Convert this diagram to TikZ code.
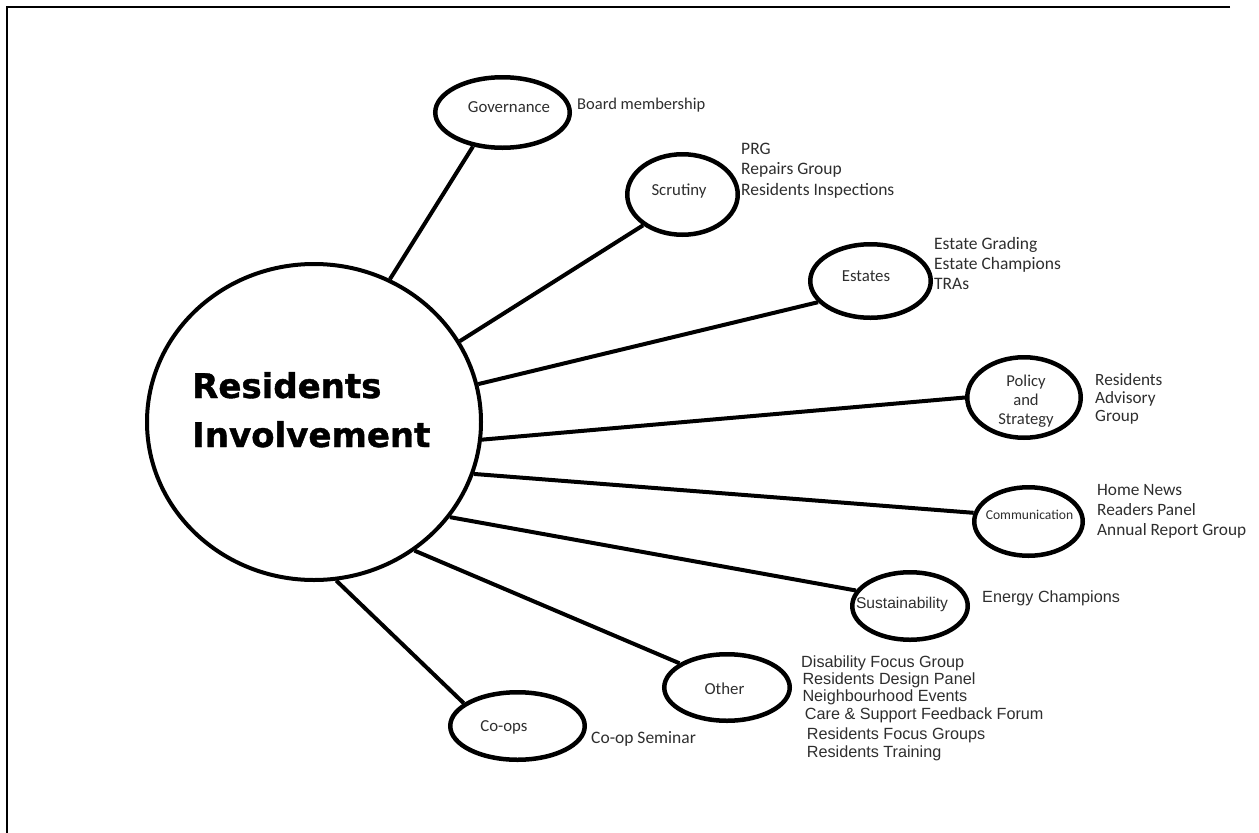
\documentclass[tikz,border=0pt]{standalone}
\usepackage{fontspec}
\setmainfont{Carlito}
\newfontfamily\arialf{Liberation Sans}
\newfontfamily\blackf{DejaVu Sans Bold}[FakeBold=1.2]
\usetikzlibrary{shapes.geometric}
\definecolor{txt}{gray}{0.18}
\begin{document}
\begin{tikzpicture}[x=1pt,y=-1pt,
  bubble/.style={draw=black, line width=4.5pt, ellipse, inner sep=0pt},
  link/.style={draw=black, line width=4pt},
  lbl/.style={inner sep=0pt, anchor=base, text=txt, font=\fontsize{16.8}{19}\selectfont},
  item/.style={inner sep=0pt, anchor=base west, text=txt, font=\fontsize{17.5}{20.5}\selectfont},
  aitem/.style={inner sep=0pt, anchor=base west, text=txt, font=\arialf\fontsize{16.2}{19}\selectfont},
]
\useasboundingbox (0,0) rectangle (1259,833);
% frame
\draw[line width=2.5pt] (1230,7) -- (7,7) -- (7,834);

% hub
\node[draw=black, line width=4pt, ellipse, inner sep=0pt, minimum width=334pt, minimum height=316pt] (big) at (314,422) {};
\node[anchor=base west, inner sep=0pt, font=\blackf\fontsize{34}{49}\selectfont] (title) at (192,398)
  {\begin{tabular}[t]{@{}l@{}}Residents\\Involvement\end{tabular}};

% bubbles
\node[bubble, minimum width=134.5pt, minimum height=70.5pt] (gov) at (502.5,112.5) {};
\node[bubble, minimum width=110.5pt, minimum height=80.5pt] (scr) at (682.5,194.5) {};
\node[bubble, minimum width=120.5pt, minimum height=73.5pt] (est) at (870.5,281) {};
\node[bubble, minimum width=113.5pt, minimum height=80.5pt] (pol) at (1024,397.5) {};
\node[bubble, minimum width=108.5pt, minimum height=68.5pt] (com) at (1028.5,521.5) {};
\node[bubble, minimum width=115.5pt, minimum height=67.5pt] (sus) at (910,606) {};
\node[bubble, minimum width=125.5pt, minimum height=66.5pt] (oth) at (727,687.5) {};
\node[bubble, minimum width=134.5pt, minimum height=67.5pt] (coo) at (517.5,726) {};

% bubble labels
\node[lbl] (govt) at (509,112) {Governance};
\node[lbl] (scrt) at (679,195) {Scrutiny};
\node[lbl] (estt) at (866,281.7) {Estates};
\node[lbl, font=\fontsize{16.6}{19}\selectfont] (polt) at (1026,386.7)
  {\begin{tabular}[t]{@{}c@{}}Policy\\and\\Strategy\end{tabular}};
\node[lbl, font=\fontsize{13.6}{16}\selectfont] (comt) at (1029.5,519) {Communication};
\node[lbl, font=\arialf\fontsize{15.6}{18}\selectfont] (sust) at (902,608) {Sustainability};
\node[lbl] (otht) at (724.5,694) {Other};
\node[lbl] (coot) at (504,731.7) {Co-ops};

% connectors
\draw[link] (big.62) -- (gov.229);
\draw[link] (big.29) -- (scr.218);
\draw[link] (big.13) -- (est.202);
\draw[link] (big.-6) -- (pol.180);
\draw[link] (big.-18) -- (com.171);
\draw[link] (big.-35) -- (sus.164);
\draw[link] (big.-52) -- (oth.153);
\draw[link] (big.-82) -- (coo.157);

% lists
\node[item, font=\fontsize{16.5}{19}\selectfont] (govl) at (577,109.5) {Board membership};
\node[item] (scrl) at (741,154)
  {\begin{tabular}[t]{@{}l@{}}PRG\\Repairs Group\\Residents Inspections\end{tabular}};
\node[item, font=\fontsize{17.5}{20}\selectfont] (estl) at (934,249.3)
  {\begin{tabular}[t]{@{}l@{}}Estate Grading\\Estate Champions\\TRAs\end{tabular}};
\node[item, font=\fontsize{17.2}{18}\selectfont] (poll) at (1095,385)
  {\begin{tabular}[t]{@{}l@{}}Residents\\Advisory\\Group\end{tabular}};
\node[item, font=\fontsize{17.3}{20.4}\selectfont] (coml) at (1097,495)
  {\begin{tabular}[t]{@{}l@{}}Home News\\Readers Panel\\Annual Report Group\end{tabular}};
\node[aitem] (susl) at (982,602.3) {Energy Champions};
\node[aitem] (oth1) at (801,667.7) {Disability Focus Group};
\node[aitem] (oth2) at (802.3,684) {Residents Design Panel};
\node[aitem] (oth3) at (802.3,701.7) {Neighbourhood Events};
\node[aitem] (oth4) at (804.7,719) {Care \& Support Feedback Forum};
\node[aitem] (oth5) at (806.7,739.3) {Residents Focus Groups};
\node[aitem] (oth6) at (806.7,757.3) {Residents Training};
\node[item] (cool) at (591,743.3) {Co-op Seminar};
\end{tikzpicture}
\end{document}
